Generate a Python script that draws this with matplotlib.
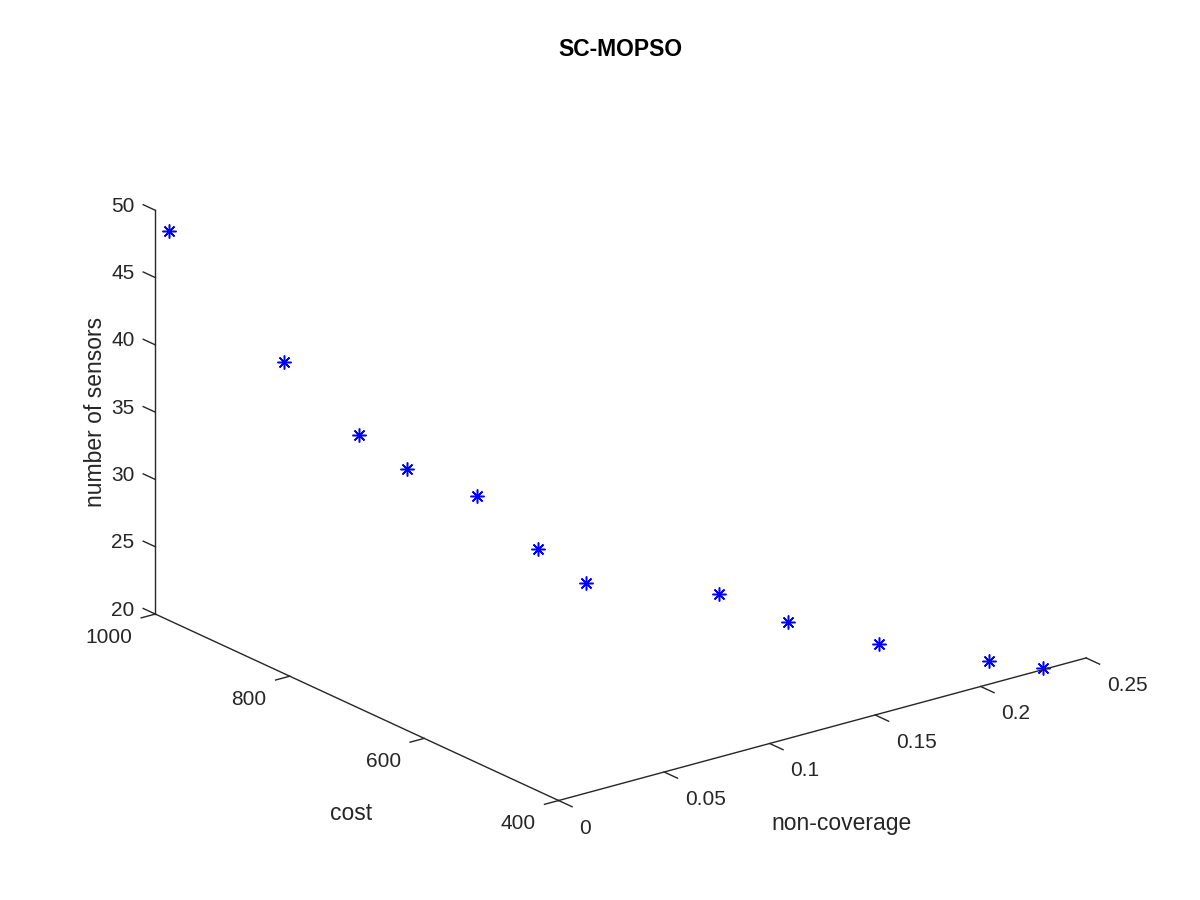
import numpy as np
import matplotlib
matplotlib.use("Agg")
import matplotlib.pyplot as plt
from mpl_toolkits.mplot3d import proj3d

# pareto front
non_coverage = [0.0066, 0.0151, 0.0246, 0.034, 0.054, 0.0635, 0.0728, 0.1225, 0.142, 0.172, 0.211, 0.2305]
cost = [1000, 856, 774, 732, 691, 630, 588, 546, 505, 464, 422, 403]
sensors = [48.2, 41.4, 37.5, 35.5, 33.6, 30.7, 28.7, 26.8, 24.8, 22.9, 20.9, 20.0]

nc_ticks = [0, 0.05, 0.1, 0.15, 0.2, 0.25]
nc_labels = ["0", "0.05", "0.1", "0.15", "0.2", "0.25"]
cost_ticks = [400, 600, 800, 1000]
sensor_ticks = [20, 25, 30, 35, 40, 45, 50]

plt.rcParams["font.family"] = ["Liberation Sans", "DejaVu Sans"]
axcol = "#262626"
W, H = 1200, 900

fig = plt.figure(figsize=(12, 9), dpi=100)
ax = fig.add_subplot(projection="3d", proj_type="ortho")
ax.view_init(elev=20.7, azim=-127.4)
ax.set_box_aspect((1, 1, 0.65))

ax.plot(non_coverage, cost, sensors, linestyle="none", marker=(8, 2, 0),
        markersize=10, markeredgewidth=1.1, color="b")

x0, x1 = nc_ticks[0], nc_ticks[-1]
y0, y1 = cost_ticks[0], cost_ticks[-1]
z0, z1 = sensor_ticks[0], sensor_ticks[-1]

# MATLAB style box: three axis lines only
ax.plot([x0, x1], [y0, y0], [z0, z0], color=axcol, lw=1.0)
ax.plot([x0, x0], [y0, y1], [z0, z0], color=axcol, lw=1.0)
ax.plot([x0, x0], [y1, y1], [z0, z1], color=axcol, lw=1.0)
for v in nc_ticks:
    ax.plot([v, v], [y0, y0 - 20], [z0, z0], color=axcol, lw=1.0)
for v in cost_ticks:
    ax.plot([x0, x0 - 0.0067], [v, v], [z0, z0], color=axcol, lw=1.0)
for v in sensor_ticks:
    ax.plot([x0, x0], [y1, y1 + 18], [v, v], color=axcol, lw=1.0)

ax.set_xlim(x0, x1)
ax.set_ylim(y0, y1)
ax.set_zlim(z0, z1)
ax.set_axis_off()

# place the axes so the box corners sit where they are in the original
fig.canvas.draw()
M = ax.get_proj()
corners = np.array([(x0, y0, z0), (x1, y0, z0), (x0, y1, z0), (x0, y1, z1)])
targets = np.array([(558, 99.5), (1086, 242), (155.7, 285), (155.7, 690.7)])
px, py, _ = proj3d.proj_transform(corners[:, 0], corners[:, 1], corners[:, 2], M)
uv = (ax.transData + ax.transAxes.inverted()).transform(np.column_stack([px, py]))
A = []
b = []
for (u, v), (tx, ty) in zip(uv, targets):
    A.append([1, 0, u]); b.append(tx)
    A.append([0, 1, v]); b.append(ty)
ox, oy, L = np.linalg.lstsq(np.array(A), np.array(b), rcond=None)[0]
ax.set_position([ox / W, oy / H, L / W, L / H])


def to_pixels(x, y, z):
    sx, sy, _ = proj3d.proj_transform(np.array([x]), np.array([y]), np.array([z]), M)
    return ax.transData.transform((sx[0], sy[0]))


def label(x, y, z, s, dx, dy, **kw):
    qx, qy = to_pixels(x, y, z)
    fig.text((qx + dx) / W, (qy + dy) / H, s, color=axcol, **kw)


for v, s in zip(nc_ticks, nc_labels):
    label(v, y0, z0, s, 20.5, -25.5, ha="left", va="center_baseline", fontsize=15)
for v in cost_ticks:
    label(x0, v, z0, str(v), -23.5, -21.3, ha="right", va="center_baseline", fontsize=15)
for v in sensor_ticks:
    label(x0, y1, v, str(v), -20.7, 6, ha="right", va="center_baseline", fontsize=15)

label((x0 + x1) / 2, y0, z0, "non-coverage", 19, -100.75, ha="center", va="baseline", fontsize=16.5)
label(x0, (y0 + y1) / 2, z0, "cost", -6, -112.5, ha="center", va="baseline", fontsize=16.5)
label(x0, y1, (z0 + z1) / 2, "number of sensors", -53, 0, rotation=90, ha="center", va="baseline",
      rotation_mode="anchor", fontsize=16.5)

fig.text(620 / W, 1 - 56 / H, "SC-MOPSO", ha="center", va="baseline", fontsize=16.5,
         fontweight="bold", color="black")

fig.savefig("out.png", dpi=100, facecolor="white")
